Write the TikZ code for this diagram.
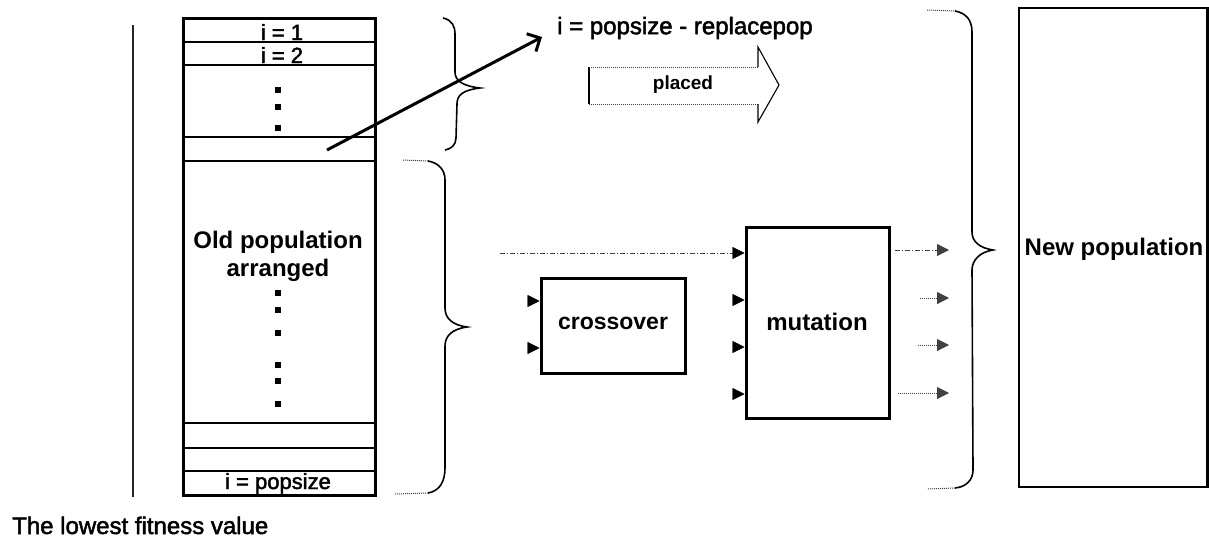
\documentclass[tikz,border=0pt]{standalone}
\usepackage{fontspec}
\setmainfont{Liberation Sans}
\newfontfamily\medsans[FakeBold=2]{Liberation Sans}
\usetikzlibrary{arrows.meta}
\begin{document}
\begin{tikzpicture}[x=1pt,y=-1pt,
  box/.style={draw, line width=3pt, inner sep=0pt},
  rowline/.style={line width=2.6pt},
  bigtext/.style={font=\fontsize{24}{28}\selectfont\bfseries},
  plaintext/.style={font=\fontsize{24}{28}\selectfont\medsans, inner sep=0pt},
  rowtext/.style={font=\fontsize{22}{26}\selectfont\medsans, inner sep=0pt, anchor=base},
  bracepath/.style={line width=1.6pt},
  tailpath/.style={line width=1pt, densely dotted, black!75},
  faint/.style={line width=1pt, dash pattern=on 5pt off 2pt on 1pt off 2pt, black!75},
  fillhead/.style={-{Triangle[length=12pt,width=12pt]}},
  blob/.style={rectangle, fill, inner sep=0pt, minimum size=5.5pt}
]
\useasboundingbox (0,0) rectangle (1209,539);

% left scale line
\coordinate (ltop) at (133,25);
\coordinate (lbot) at (133,497);
\draw[line width=2pt, black!85] (ltop) -- (lbot);

% old population column
\node[box, minimum width=192pt, minimum height=477pt, anchor=north west] (old) at (182,17) {};
\foreach \yy in {42,65,137,161,423,448,471}
  \draw[rowline] (old.west |- 0,\yy) -- (old.east |- 0,\yy);
\node[rowtext] (i1) at (282,40) {i = 1};
\node[rowtext] (i2) at (282,63) {i = 2};
\node[rowtext] (ipop) at (278,489) {i = popsize};
\foreach \yy in {90,107,128,293,310,333,365,381,404}
  \node[blob] at (278,\yy) {};
\node[bigtext, align=center, inner sep=0pt] (oldtxt) at (278,256) {Old population\\arranged};

% selection pointer
\coordinate (astart) at (327,150);
\coordinate (aend) at (542,37);
\draw[line width=3pt, -{Straight Barb[length=10pt,width=20pt,line width=3pt]}] (astart) -- (aend);
\node[plaintext, anchor=west] (ieq) at (557,28) {i = popsize - replacepop};

% "placed" block arrow
\draw[line width=2.2pt] (589,67) -- (589,104);
\draw[tailpath] (589,67) -- (758,67);
\draw[tailpath] (589,104) -- (758,104);
\draw[line width=1.1pt] (758,67) -- (758,47) -- (779,85) -- (758,122) -- (758,104);
\node[font=\fontsize{19}{22}\selectfont\bfseries, inner sep=0pt] (placed) at (683,85) {placed};

% braces
\draw[bracepath] (443,18) .. controls (452,20) and (455,26) .. (455,34) -- (455,72)
  .. controls (455,81) and (463,86) .. (480,88)
  .. controls (463,90) and (457,95) .. (457,104) -- (456,138)
  .. controls (456,145) and (451,149) .. (445,150);

\draw[tailpath] (403,160) -- (428,161);
\draw[bracepath] (428,161) .. controls (439,163) and (445,170) .. (445,180) -- (445,308)
  .. controls (445,318) and (452,325) .. (467,327)
  .. controls (452,329) and (445,336) .. (445,346) -- (445,468)
  .. controls (445,481) and (440,491) .. (428,493);
\draw[tailpath] (428,493) -- (395,494);

\draw[tailpath] (927,10) -- (955,11);
\draw[bracepath] (955,11) .. controls (966,13) and (972,20) .. (972,32) -- (972,232)
  .. controls (972,242) and (980,248) .. (993,250)
  .. controls (980,252) and (972,260) .. (972,270) -- (973,470)
  .. controls (973,480) and (966,487) .. (955,488);
\draw[tailpath] (955,488) -- (927,489);

% operators
\node[box, minimum width=144pt, minimum height=95pt] (cross) at (613,325.5) {};
\node[font=\fontsize{23}{26}\selectfont\bfseries, inner sep=0pt] (crosstxt) at (613,323) {crossover};
\node[box, minimum width=143pt, minimum height=191pt] (mut) at (817.5,322.5) {};
\node[bigtext, inner sep=0pt] (muttxt) at (817,322) {mutation};

% new population
\node[draw, line width=2.4pt, minimum width=188.5pt, minimum height=479pt, inner sep=0pt] (newpop) at (1113.25,247.5) {};
\node[bigtext, inner sep=0pt] (newtxt) at (1114,249) {New population};

% inputs of crossover
\coordinate (c1) at (528,301);
\coordinate (c2) at (528,348);
\draw[fillhead, line width=0.4pt] (c1) -- (cross.west |- c1);
\draw[fillhead, line width=0.4pt] (c2) -- (cross.west |- c2);

% inputs of mutation
\coordinate (m1) at (500,253);
\draw[faint] (m1) -- (733,253);
\draw[fillhead, line width=0.4pt] (733,253) -- (mut.west |- m1);
\foreach \yy in {300,347,394}
  \draw[fillhead, line width=0.4pt] (733,\yy) -- (mut.west |- 0,\yy);

% outputs of mutation
\coordinate (o1) at (895,250);
\coordinate (o2) at (920,298);
\coordinate (o3) at (918,345);
\coordinate (o4) at (898,393);
\coordinate (t1) at (949,250);
\coordinate (t2) at (949,298);
\coordinate (t3) at (949,345);
\coordinate (t4) at (949,393);
\draw[faint, fillhead] (o1) -- (t1);
\draw[tailpath, fillhead] (o2) -- (t2);
\draw[tailpath, fillhead] (o3) -- (t3);
\draw[tailpath, fillhead] (o4) -- (t4);

% caption
\node[plaintext, anchor=base west] (low) at (12,534) {The lowest fitness value};
\end{tikzpicture}
\end{document}
